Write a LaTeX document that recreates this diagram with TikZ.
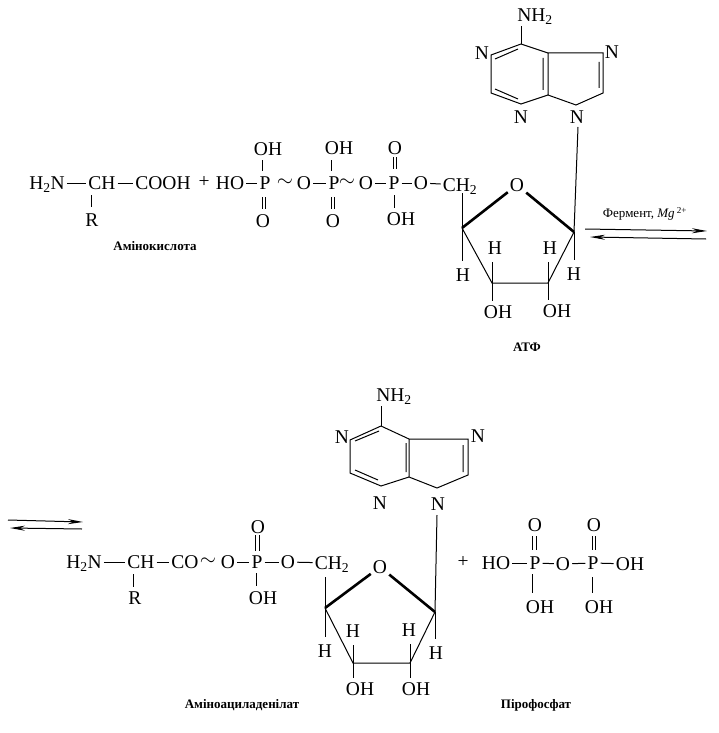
\documentclass[tikz,border=0pt]{standalone}
\usepackage{fontspec}
\setmainfont{Liberation Serif}
\usetikzlibrary{arrows.meta}

\tikzset{
	atom/.style={inner sep=2pt,text height=13pt,text depth=0pt,font=\fontsize{19.5}{20}\selectfont},
	bond/.style={line width=1pt},
	vbond/.style={line width=1pt,shorten >=2pt},
	dbl/.style={line width=1pt,double,double distance=2.6pt,shorten >=1pt},
	wedgebond/.style={line width=2.6pt},
	caption/.style={inner sep=0pt,font=\fontsize{13}{14}\selectfont\bfseries},
	arrowright/.style={line width=1pt,-{Stealth[length=15pt,width=5pt]}},
}

\begin{document}
\begin{tikzpicture}[x=1pt,y=-1pt]

\useasboundingbox (0,0) rectangle (718,733);

\coordinate (A1) at (521,44);
\coordinate (A2) at (491,55);
\coordinate (A3) at (491,93);
\coordinate (A4) at (521,104);
\coordinate (A5) at (548,95);
\coordinate (A6) at (548,53);
\coordinate (A7) at (603,53);
\coordinate (A8) at (603,93);
\coordinate (A9) at (576,105);
\coordinate (RA) at (574,232);
\coordinate (RB) at (548,283);
\coordinate (RC) at (492,283);
\coordinate (RD) at (462,228);

\node[atom] (NHa) at (535,15) {NH\textsubscript{2}};
\node[atom] (Na) at (482,53) {N};
\node[atom] (Nb) at (521,117) {N};
\node[atom] (Nc) at (612,52) {N};
\node[atom] (Nd) at (577,117) {N};
\node[atom] (Oa) at (517,185) {O};
\node[atom] (CHa) at (460,185) {CH\textsubscript{2}};
\node[atom] (Ha) at (463,275) {H};
\node[atom] (Hb) at (495,248) {H};
\node[atom] (Hc) at (550,248) {H};
\node[atom] (Hd) at (574,274) {H};
\node[atom] (OHa) at (498,312) {OH};
\node[atom] (OHb) at (557,311) {OH};

\draw [bond] (A1) -- (A2) -- (A3) -- (A4) -- (A5) -- (A6) -- (A1)
	(A6) -- (A7) -- (A8) -- (A9) -- (A5);
\draw [bond] (495,59) -- (518,49)
	(495,89) -- (518,99)
	(543,58) -- (543,90)
	(599,62) -- (599,88);
\draw [vbond] (A1) -- (A1 |- NHa.south);

\draw [bond] (578,127) -- (RA);
\draw [wedgebond] (RD) -- (Oa) (Oa) -- (RA);
\draw [bond] (RD) -- (RC) -- (RB) -- (RA);
\draw [bond] (462,193) -- (RD);
\draw [bond,shorten >=5pt] (RD) -- (RD |- Ha.north);
\draw [bond,shorten >=5pt] (RC) -- (RC |- Hb.south);
\draw [bond,shorten >=5pt] (RB) -- (RB |- Hc.south);
\draw [bond,shorten >=5pt] (RA) -- (RA |- Hd.north);
\draw [vbond] (RC) -- (RC |- OHa.north);
\draw [vbond] (RB) -- (RB |- OHb.north);

\coordinate (Ua) at (585,229);
\coordinate (Ub) at (707,231);
\coordinate (Uc) at (706,239);
\coordinate (Ud) at (590,237);
\draw [arrowright] (Ua) -- (Ub);
\draw [arrowright] (Uc) -- (Ud);
\node[caption,font=\fontsize{13}{14}\selectfont] (enz) at (645,214) {Фермент, \textit{Mg}\,\textsuperscript{2+}};
\node[caption] (atp) at (527,347) {АТФ};

\node[atom] (HN) at (47,183) {H\textsubscript{2}N};
\node[atom] (CH) at (102,183) {CH};
\node[atom] (COOH) at (163,183) {COOH};
\node[atom] (Ra) at (92,220) {R};
\node[atom] (plusa) at (204,181) {+};
\node[atom] (HO) at (230,183) {HO};
\node[atom] (Pa) at (265,183) {P};
\node[atom] (OHc) at (268,149) {OH};
\node[atom] (Ob) at (263,221) {O};
\node[atom] (tila) at (285,180) {$\sim$};
\node[atom] (Oc) at (304,183) {O};
\node[atom] (Pb) at (334,183) {P};
\node[atom] (OHd) at (339,148) {OH};
\node[atom] (Od) at (333,221) {O};
\node[atom] (tilb) at (347,180) {$\sim$};
\node[atom] (Oe) at (366,183) {O};
\node[atom] (Pc) at (394,183) {P};
\node[atom] (Of) at (395,148) {O};
\node[atom] (OHe) at (401,219) {OH};
\node[atom] (Og) at (421,183) {O};
\node[caption] (amino) at (155,246) {Амінокислота};

\draw [bond] (HN) -- (CH);
\draw [bond] (CH) -- (COOH);
\draw [bond] (HO) -- (Pa);
\draw [bond] (Oc) -- (Pb);
\draw [bond] (Oe) -- (Pc);
\draw [bond] (Pc) -- (Og);
\draw [bond] (Og) -- (CHa);
\draw [vbond] (91,195) -- (91,209);
\draw [bond] (262,160) -- (262,171);
\draw [bond] (331,160) -- (331,171);
\draw [dbl] (264,197) -- (264,210);
\draw [dbl] (333,197) -- (333,210);
\draw [dbl] (395,157) -- (395,170);
\draw [bond] (394,195) -- (394,208);

\coordinate (Va) at (8,520);
\coordinate (Vb) at (83,522);
\coordinate (Vc) at (82,529);
\coordinate (Vd) at (10,528);
\draw [arrowright] (Va) -- (Vb);
\draw [arrowright] (Vc) -- (Vd);

\node[atom] (HNb) at (84,562) {H\textsubscript{2}N};
\node[atom] (CHb) at (141,562) {CH};
\node[atom] (CO) at (185,562) {CO};
\node[atom] (Rb) at (135,598) {R};
\node[atom] (tilc) at (208,559) {$\sim$};
\node[atom] (Oh) at (228,562) {O};
\node[atom] (Pd) at (257,562) {P};
\node[atom] (Oi) at (258,527) {O};
\node[atom] (OHf) at (263,598) {OH};
\node[atom] (Oj) at (288,562) {O};
\node[atom] (CHc) at (332,563) {CH\textsubscript{2}};

\draw [bond] (HNb) -- (CHb);
\draw [bond] (CHb) -- (CO);
\draw [bond] (Oh) -- (Pd);
\draw [bond] (Pd) -- (Oj);
\draw [bond] (Oj) -- (CHc);
\draw [bond] (133,574) -- (133,587);
\draw [dbl] (257.5,535) -- (257.5,552);
\draw [bond] (256,573) -- (256,586);

\coordinate (B1) at (381,426);
\coordinate (B2) at (350,440);
\coordinate (B3) at (350,473);
\coordinate (B4) at (381,486);
\coordinate (B5) at (409,477);
\coordinate (B6) at (409,439);
\coordinate (B7) at (468,439);
\coordinate (B8) at (468,475);
\coordinate (B9) at (437,488);
\coordinate (SA) at (435,612);
\coordinate (SB) at (410,663);
\coordinate (SC) at (353,663);
\coordinate (SD) at (325,608);

\node[atom] (NHb) at (394,395) {NH\textsubscript{2}};
\node[atom] (Nf) at (342,437) {N};
\node[atom] (Ng) at (380,503) {N};
\node[atom] (Nh) at (478,436) {N};
\node[atom] (Ni) at (438,504) {N};
\node[atom] (Ok) at (380,567) {O};
\node[atom] (He) at (325,651) {H};
\node[atom] (Hf) at (353,631) {H};
\node[atom] (Hg) at (409,630) {H};
\node[atom] (Hh) at (436,653) {H};
\node[atom] (OHg) at (360,689) {OH};
\node[atom] (OHh) at (416,689) {OH};

\draw [bond] (B1) -- (B2) -- (B3) -- (B4) -- (B5) -- (B6) -- (B1)
	(B6) -- (B7) -- (B8) -- (B9) -- (B5);
\draw [bond] (355,441) -- (379,431)
	(355,470) -- (378,480)
	(406,443) -- (406,472)
	(463,445) -- (463,472);
\draw [vbond] (B1) -- (B1 |- NHb.south);

\draw [bond] (437,515) -- (SA);
\draw [wedgebond] (SD) -- (Ok) (Ok) -- (SA);
\draw [bond] (SD) -- (SC) -- (SB) -- (SA);
\draw [bond] (325,577) -- (SD);
\draw [bond,shorten >=5pt] (SD) -- (SD |- He.north);
\draw [bond,shorten >=5pt] (SC) -- (SC |- Hf.south);
\draw [bond,shorten >=5pt] (SB) -- (SB |- Hg.south);
\draw [bond,shorten >=5pt] (SA) -- (SA |- Hh.north);
\draw [vbond] (SC) -- (SC |- OHg.north);
\draw [vbond] (SB) -- (SB |- OHh.north);

\node[caption] (adenyl) at (242,705) {Аміноациладенілат};

\node[atom] (plusb) at (463,561) {+};
\node[atom] (HOb) at (496,563) {HO};
\node[atom] (Pe) at (535,563) {P};
\node[atom] (Ol) at (535,525) {O};
\node[atom] (OHi) at (540,607) {OH};
\node[atom] (Om) at (563,564) {O};
\node[atom] (Pf) at (593,563) {P};
\node[atom] (On) at (594,525) {O};
\node[atom] (OHj) at (599,607) {OH};
\node[atom] (OHk) at (630,564) {OH};
\node[caption] (pyro) at (536,705) {Пірофосфат};

\draw [bond] (HOb) -- (Pe);
\draw [bond] (Pe) -- (Om);
\draw [bond] (Om) -- (Pf);
\draw [bond] (Pf) -- (OHk);
\draw [dbl] (534.5,536) -- (534.5,551);
\draw [dbl] (594,536) -- (594,551);
\draw [bond] (532,574) -- (532,593);
\draw [bond] (592,577) -- (592,593);

\end{tikzpicture}
\end{document}
